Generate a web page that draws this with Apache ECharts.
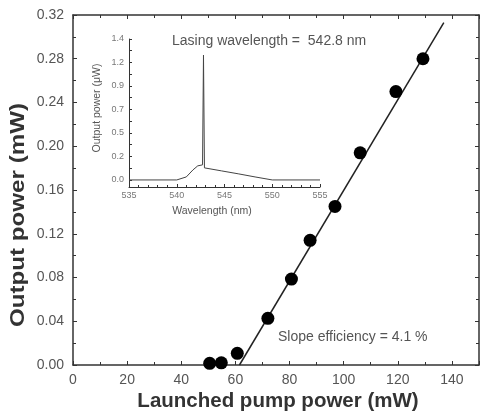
<!DOCTYPE html>
<html>
<head>
<meta charset="utf-8">
<script src="https://cdn.jsdelivr.net/npm/echarts@6/dist/echarts.min.js"></script>
<style>
  html, body { margin: 0; padding: 0; background: #fff; }
  #main { width: 481px; height: 413px; }
</style>
</head>
<body>
<div id="main"></div>
<script>
// main plot: launched pump power vs output power
var pumpPower = [50.5, 54.8, 60.7, 72.0, 80.7, 87.6, 96.8, 106.1, 119.3, 129.3];
var outputPower = [0.0015, 0.002, 0.0107, 0.0427, 0.0786, 0.114, 0.145, 0.194, 0.250, 0.280];
// linear fit line end points
var fitX = [61.5, 137];
var fitY = [0, 0.313];
// inset spectrum
var wavelength = [535, 540, 541, 541.7, 542.2, 542.7, 542.8, 542.9, 544.7, 546.5, 548.2, 550, 555];
var intensity = [0.0, 0.0, 0.03, 0.10, 0.14, 0.15, 1.24, 0.12, 0.09, 0.06, 0.03, 0.0, 0.0];
var insetTicks = [0, 0.2333, 0.4667, 0.7, 0.9333, 1.1667, 1.4];

var FONT = 'Liberation Sans, Arial, sans-serif';
var axisCol = '#333';
var labelCol = '#555';

function zip(a, b) {
  return a.map(function (v, i) { return [v, b[i]]; });
}

var insetMinor = [];
for (var i = 0; i < insetTicks.length - 1; i++) {
  insetMinor.push(insetTicks[i]);
  insetMinor.push((insetTicks[i] + insetTicks[i + 1]) / 2);
}
insetMinor.push(1.4);

var chart = echarts.init(document.getElementById('main'));

var option = {
  backgroundColor: '#fff',
  animation: false,
  textStyle: { fontFamily: FONT },
  grid: [
    { left: 73, top: 15, right: 2, bottom: 48 },
    { left: 129, top: 39, right: 161, bottom: 226, backgroundColor: '#fff', show: true, borderWidth: 0 }
  ],
  xAxis: [
    {
      gridIndex: 0, type: 'value', min: 0, max: 150, interval: 20,
      axisLine: { onZero: false, lineStyle: { color: axisCol, width: 1.5 } },
      axisTick: { inside: true, length: 4, lineStyle: { color: axisCol } },
      minorTick: { show: true, splitNumber: 2, length: 3, lineStyle: { color: axisCol } },
      axisLabel: { color: labelCol, fontSize: 14, margin: 8, showMaxLabel: false },
      splitLine: { show: false }
    },
    {
      gridIndex: 0, type: 'value', position: 'top', min: 0, max: 150, interval: 20,
      axisLine: { onZero: false, lineStyle: { color: axisCol, width: 1.5 } },
      axisTick: { inside: true, length: 4, lineStyle: { color: axisCol } },
      minorTick: { show: true, splitNumber: 2, length: 3, lineStyle: { color: axisCol } },
      axisLabel: { show: false },
      splitLine: { show: false }
    },
    {
      gridIndex: 1, type: 'value', min: 535, max: 555, interval: 5,
      axisLine: { onZero: false, lineStyle: { color: axisCol, width: 1 } },
      axisTick: { inside: true, length: 3, lineStyle: { color: axisCol } },
      minorTick: { show: true, splitNumber: 5, length: 2, lineStyle: { color: axisCol } },
      axisLabel: { color: '#777', fontSize: 9, margin: 4 },
      splitLine: { show: false }
    }
  ],
  yAxis: [
    {
      gridIndex: 0, type: 'value', min: 0, max: 0.32, interval: 0.04,
      axisLine: { onZero: false, lineStyle: { color: axisCol, width: 1.5 } },
      axisTick: { inside: true, length: 4, lineStyle: { color: axisCol } },
      minorTick: { show: true, splitNumber: 2, length: 3, lineStyle: { color: axisCol } },
      axisLabel: { color: labelCol, fontSize: 14, margin: 9, formatter: function (v) { return v.toFixed(2); } },
      splitLine: { show: false }
    },
    {
      gridIndex: 0, type: 'value', position: 'right', min: 0, max: 0.32, interval: 0.04,
      axisLine: { onZero: false, lineStyle: { color: axisCol, width: 1.5 } },
      axisTick: { inside: true, length: 4, lineStyle: { color: axisCol } },
      minorTick: { show: true, splitNumber: 2, length: 3, lineStyle: { color: axisCol } },
      axisLabel: { show: false },
      splitLine: { show: false }
    },
    {
      gridIndex: 1, type: 'value', min: -0.07, max: 1.4,
      axisLine: { onZero: false, lineStyle: { color: axisCol, width: 1 } },
      axisTick: { inside: true, length: 3, customValues: insetMinor, lineStyle: { color: axisCol } },
      axisLabel: {
        color: '#777', fontSize: 9, margin: 5, customValues: insetTicks,
        formatter: function (v) { return (+v).toFixed(1); }
      },
      splitLine: { show: false }
    }
  ],
  series: [
    {
      type: 'line', xAxisIndex: 0, yAxisIndex: 0,
      data: zip(fitX, fitY), symbol: 'none',
      lineStyle: { color: '#222', width: 1.5 }, z: 2
    },
    {
      type: 'scatter', xAxisIndex: 0, yAxisIndex: 0,
      data: zip(pumpPower, outputPower), symbol: 'circle', symbolSize: 13,
      itemStyle: { color: '#000', opacity: 1 }, z: 3
    },
    {
      type: 'line', xAxisIndex: 2, yAxisIndex: 2,
      data: zip(wavelength, intensity), symbol: 'none',
      lineStyle: { color: '#444', width: 1 }
    }
  ],
  graphic: [
    {
      type: 'text', x: 18, y: 215, rotation: Math.PI / 2, scaleX: 1.15,
      style: { text: 'Output power (mW)', fill: '#333', font: 'bold 21px ' + FONT, align: 'center', verticalAlign: 'middle' }
    },
    {
      type: 'text', x: 278, y: 401,
      style: { text: 'Launched pump power (mW)', fill: '#333', font: 'bold 20.5px ' + FONT, align: 'center', verticalAlign: 'middle' }
    },
    {
      type: 'text', x: 172, y: 41,
      style: { text: 'Lasing wavelength =  542.8 nm', fill: '#555', font: '14px ' + FONT, verticalAlign: 'middle' }
    },
    {
      type: 'text', x: 278, y: 337,
      style: { text: 'Slope efficiency = 4.1 %', fill: '#555', font: '14px ' + FONT, verticalAlign: 'middle' }
    },
    {
      type: 'text', x: 97, y: 108, rotation: Math.PI / 2,
      style: { text: 'Output power (\u03bcW)', fill: '#555', font: '10.5px ' + FONT, align: 'center', verticalAlign: 'middle' }
    },
    {
      type: 'text', x: 212, y: 211,
      style: { text: 'Wavelength (nm)', fill: '#555', font: '10.5px ' + FONT, align: 'center', verticalAlign: 'middle' }
    }
  ]
};

chart.setOption(option);
</script>
</body>
</html>
